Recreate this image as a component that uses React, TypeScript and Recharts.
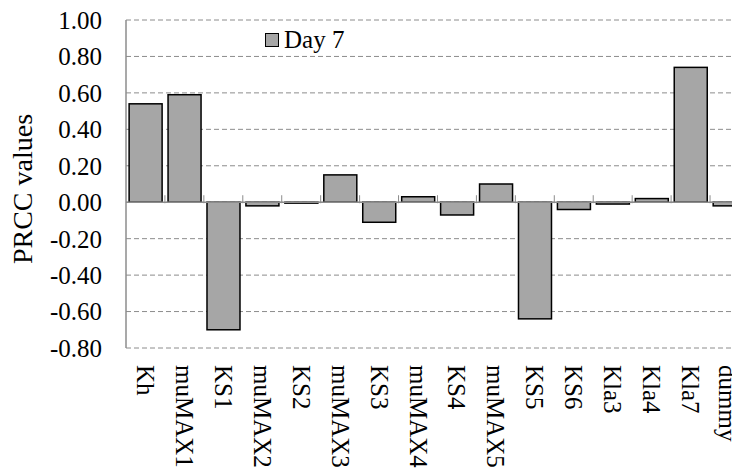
import {
  BarChart,
  Bar,
  XAxis,
  YAxis,
  CartesianGrid,
  ReferenceLine,
  Legend,
  Label,
} from 'recharts';

const params = [
  'Kh', 'muMAX1', 'KS1', 'muMAX2', 'KS2', 'muMAX3', 'KS3', 'muMAX4',
  'KS4', 'muMAX5', 'KS5', 'KS6', 'Kla3', 'Kla4', 'Kla7', 'dummy',
];
const day7 = [
  0.54, 0.59, -0.7, -0.02, -0.005, 0.15, -0.11, 0.03,
  -0.07, 0.1, -0.64, -0.04, -0.01, 0.02, 0.74, -0.02,
];
const yTicks = [-0.8, -0.6, -0.4, -0.2, 0, 0.2, 0.4, 0.6, 0.8, 1.0];

const chartData = params.map((name, i) => ({ name, day7: day7[i] }));

const FONT = 'Liberation Serif';
const GAP = 0.08;
const VISIBLE_W = 732;

// bar with small gray tick marks at the category boundaries on the zero line
const BarShape = (props: any) => {
  const { x, y, width, height, value, index } = props;
  const top = Math.min(y, y + height);
  const h = Math.abs(height);
  const v = Array.isArray(value) ? value[1] - value[0] : value;
  const zero = v >= 0 ? top + h : top;
  const band = width / (1 - 2 * GAP);
  const left = x - (band - width) / 2;
  return (
    <g>
      <rect x={x} y={top} width={width} height={Math.max(h, 0.5)} fill="#a6a6a6" stroke="#000" strokeWidth={1.5} />
      {index > 0 && <line x1={left} x2={left} y1={zero - 7} y2={zero + 1} stroke="#8c8c8c" strokeWidth={1} />}
      {index === params.length - 1 && (
        <line x1={left + band} x2={left + band} y1={zero - 7} y2={zero + 1} stroke="#8c8c8c" strokeWidth={1} />
      )}
    </g>
  );
};

// rotated category label, kept inside the visible width
const XTick = ({ x, y, payload }: any) => (
  <g transform={`translate(${Math.min(x, VISIBLE_W - 13)},${y})`}>
    <text
      transform="rotate(90)"
      textAnchor="start"
      dominantBaseline="central"
      fontFamily={FONT}
      fontSize={25}
      fill="#000"
    >
      {payload.value}
    </text>
  </g>
);

const LegendBox = () => (
  <div style={{ display: 'flex', alignItems: 'center', fontFamily: FONT, fontSize: 25, color: '#000' }}>
    <span style={{ width: 12, height: 12, background: '#a6a6a6', border: '1.5px solid #000', marginRight: 5 }} />
    <span>Day 7</span>
  </div>
);

export default function App() {
  return (
    <div style={{ width: VISIBLE_W, height: 467, overflow: 'hidden' }}>
      <BarChart
        width={760}
        height={467}
        data={chartData}
        margin={{ top: 12, right: 19, left: 0, bottom: 0 }}
        barCategoryGap={`${GAP * 100}%`}
      >
        <CartesianGrid vertical={false} stroke="#8c8c8c" strokeDasharray="5 3" />
        <XAxis
          dataKey="name"
          interval={0}
          axisLine={false}
          tickLine={false}
          height={127}
          tick={<XTick />}
          tickMargin={11}
        />
        <YAxis
          width={118}
          domain={[-0.8, 1.0]}
          ticks={yTicks}
          interval={0}
          tickFormatter={(v: number) => v.toFixed(2)}
          axisLine={{ stroke: '#8c8c8c', strokeWidth: 1.5 }}
          tickLine={false}
          tickSize={0}
          tickMargin={24}
          tick={{ fontSize: 25, fill: '#000', fontFamily: FONT }}
        >
          <Label
            content={({ viewBox }: any) => {
              const cy = viewBox.y + viewBox.height / 2 + 5;
              return (
                <text
                  x={14}
                  y={cy}
                  transform={`rotate(-90, 14, ${cy})`}
                  textAnchor="middle"
                  dominantBaseline="central"
                  fontFamily={FONT}
                  fontSize={28}
                  fill="#000"
                >
                  PRCC values
                </text>
              );
            }}
          />
        </YAxis>
        <ReferenceLine y={0} stroke="#8c8c8c" strokeWidth={1.5} />
        <Legend
          layout="horizontal"
          verticalAlign="middle"
          content={<LegendBox />}
          wrapperStyle={{ top: 18, left: 257, width: 'auto' }}
        />
        <Bar dataKey="day7" name="Day 7" shape={<BarShape />} isAnimationActive={false} />
      </BarChart>
    </div>
  );
}
